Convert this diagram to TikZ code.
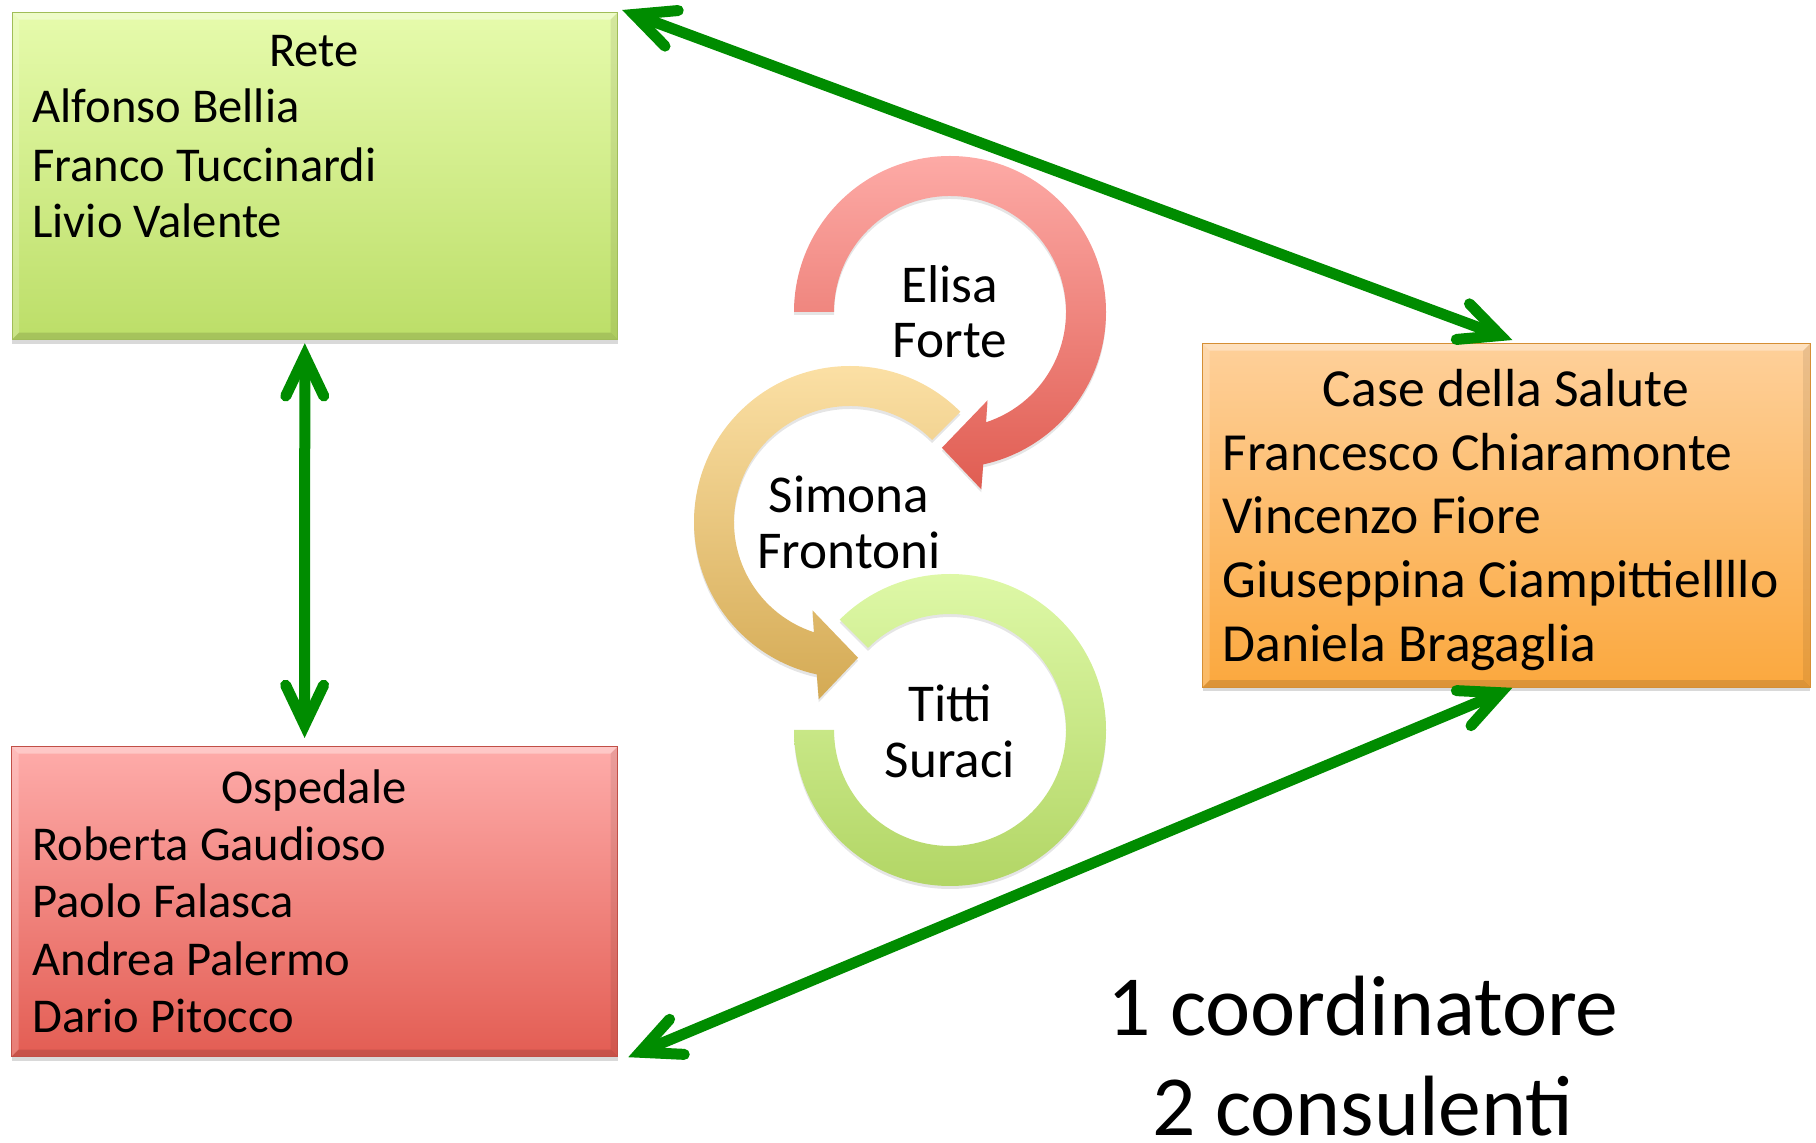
\documentclass[tikz,border=0pt]{standalone}
\usepackage{fontspec}
\setmainfont{Carlito}
\usetikzlibrary{arrows.meta,shadows}
\definecolor{retetop}{RGB}{230,251,172}
\definecolor{retebot}{RGB}{188,222,104}
\definecolor{casetop}{RGB}{254,208,154}
\definecolor{casebot}{RGB}{251,168,62}
\definecolor{osptop}{RGB}{254,172,170}
\definecolor{ospbot}{RGB}{227,93,83}
\definecolor{ringAtop}{RGB}{253,170,166}
\definecolor{ringAbot}{RGB}{224,93,82}
\definecolor{ringBtop}{RGB}{253,226,168}
\definecolor{ringBbot}{RGB}{212,170,84}
\definecolor{ringCtop}{RGB}{224,250,170}
\definecolor{ringCbot}{RGB}{176,212,98}
\definecolor{linkgreen}{RGB}{0,140,0}
\tikzset{
  panel/.style={rectangle, anchor=north west, inner sep=0pt,
    drop shadow={shadow xshift=0pt, shadow yshift=-2pt, fill=black, opacity=0.15},
    path picture={
      \fill[white,opacity=0.35] (path picture bounding box.north west) -- (path picture bounding box.north east)
        -- ([shift={(-3.5pt,-3.5pt)}]path picture bounding box.north east) -- ([shift={(3.5pt,-3.5pt)}]path picture bounding box.north west) -- cycle;
      \fill[white,opacity=0.2] (path picture bounding box.north west) -- (path picture bounding box.south west)
        -- ([shift={(3.5pt,3.5pt)}]path picture bounding box.south west) -- ([shift={(3.5pt,-3.5pt)}]path picture bounding box.north west) -- cycle;
      \fill[black,opacity=0.08] (path picture bounding box.north east) -- (path picture bounding box.south east)
        -- ([shift={(-3.5pt,3.5pt)}]path picture bounding box.south east) -- ([shift={(-3.5pt,-3.5pt)}]path picture bounding box.north east) -- cycle;
      \fill[black,opacity=0.12] (path picture bounding box.south west) -- (path picture bounding box.south east)
        -- ([shift={(-3.5pt,3.5pt)}]path picture bounding box.south east) -- ([shift={(3.5pt,3.5pt)}]path picture bounding box.south west) -- cycle;
    }},
  ringshadow/.style={drop shadow={shadow xshift=0pt, shadow yshift=-1.5pt, fill=black, opacity=0.1}},
  small/.style={inner sep=0pt, font=\fontsize{24.3}{28}\selectfont},
  mid/.style={inner sep=0pt, font=\fontsize{26.8}{32}\selectfont},
  ringtext/.style={inner sep=0pt, anchor=base, font=\fontsize{26.6}{31}\selectfont},
  big/.style={inner sep=0pt, anchor=base, font=\fontsize{42.8}{50}\selectfont},
  barb/.tip={Straight Barb[length=20pt,width=19pt,line cap=round,line join=miter]},
  link/.style={draw=linkgreen, line width=5.5pt, line cap=round, barb-barb}
}
\begin{document}
\begin{tikzpicture}[x=0.5pt,y=0.5pt]
\useasboundingbox (0,0) rectangle (1816,-1143);

% boxes
\node[panel, top color=retetop, bottom color=retebot, draw=retebot!85!black, line width=0.6pt,
  minimum width=302.7pt, minimum height=163.5pt] (rete) at (11.5,-12) {};
\node[panel, top color=casetop, bottom color=casebot, draw=casebot!85!black, line width=0.6pt,
  minimum width=303.8pt, minimum height=171.8pt] (case) at (1202,-343) {};
\node[panel, top color=osptop, bottom color=ospbot, draw=ospbot!85!black, line width=0.6pt,
  minimum width=303pt, minimum height=155pt] (osp) at (11,-746) {};

% Rete text
\node[small, anchor=base] (reteT) at (314,-66.5) {Rete};
\node[small, anchor=base west] (rete1) at (32,-123) {Alfonso Bellia};
\node[small, anchor=base west] (rete2) at (32,-181.5) {Franco Tuccinardi};
\node[small, anchor=base west] (rete3) at (32,-238) {Livio Valente};

% Case text
\node[mid, anchor=base] (caseT) at (1506,-407) {Case della Salute};
\node[mid, anchor=base west] (case1) at (1222,-470.5) {Francesco Chiaramonte};
\node[mid, anchor=base west] (case2) at (1222,-534) {Vincenzo Fiore};
\node[mid, anchor=base west] (case3) at (1222,-597.5) {Giuseppina Ciampittiellllo};
\node[mid, anchor=base west] (case4) at (1222,-661.5) {Daniela Bragaglia};

% Ospedale text
\node[small, anchor=base] (ospT) at (314,-803.5) {Ospedale};
\node[small, anchor=base west] (osp1) at (32,-860.5) {Roberta Gaudioso};
\node[small, anchor=base west] (osp2) at (32,-918) {Paolo Falasca};
\node[small, anchor=base west] (osp3) at (32,-975) {Andrea Palermo};
\node[small, anchor=base west] (osp4) at (32,-1032.5) {Dario Pitocco};

% circular arrows
\begin{scope}[shift={(950,-730)}]
  \shade[ringshadow, top color=ringCtop, bottom color=ringCbot]
    (135:156) arc[start angle=135, end angle=-180, radius=156]
    -- (180:116) arc[start angle=180, end angle=495, radius=116] -- cycle;
\end{scope}
\begin{scope}[shift={(850,-522)}]
  \shade[ringshadow, top color=ringBtop, bottom color=ringBbot]
    (45:156) arc[start angle=45, end angle=257.7, radius=156]
    -- (260:180) -- (273.4:136) -- (247:96) -- (251.9:116)
    arc[start angle=251.9, end angle=45, radius=116] -- cycle;
\end{scope}
\begin{scope}[shift={(950,-312)}]
  \shade[ringshadow, top color=ringAtop, bottom color=ringAbot]
    (180:156) arc[start angle=180, end angle=-77.7, radius=156]
    -- (-80:180) -- (-93.4:136) -- (-67:96) -- (-71.9:116)
    arc[start angle=-71.9, end angle=180, radius=116] -- cycle;
\end{scope}

\node[ringtext] (elisa1) at (950,-302.4) {Elisa};
\node[ringtext] (elisa2) at (950,-358) {Forte};
\node[ringtext] (simona1) at (849,-513) {Simona};
\node[ringtext] (simona2) at (849,-569) {Frontoni};
\node[ringtext] (titti1) at (950,-721.7) {Titti};
\node[ringtext] (titti2) at (950,-777.4) {Suraci};

% bottom text
\node[big] (coord) at (1363,-1036) {1 coordinatore};
\node[big] (cons) at (1363,-1135) {2 consulenti};

% connectors
\draw[link] ([shift={(2pt,1pt)}]rete.north east) -- ([shift={(3pt,1.5pt)}]case.north);
\draw[link] ([shift={(-5pt,-1.5pt)}]rete.south) -- ([shift={(-5pt,4pt)}]osp.north);
\draw[link] ([shift={(3pt,0pt)}]case.south) -- ([shift={(5pt,0pt)}]osp.south east);
\end{tikzpicture}
\end{document}
